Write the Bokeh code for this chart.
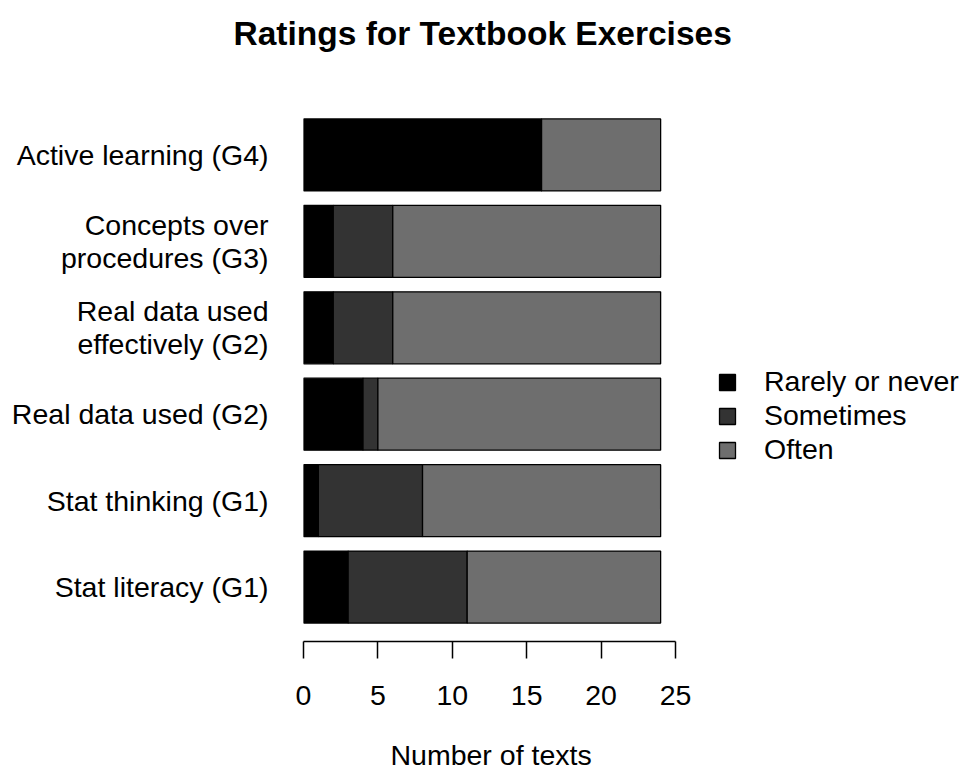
from bokeh.plotting import figure
from bokeh.models import FactorRange, Range1d, FixedTicker, Legend, ColumnDataSource, Title
from bokeh.embed import file_html
from bokeh.resources import INLINE

# Data (top to bottom as displayed)
categories = [
    "Active learning (G4)",
    "Concepts over\nprocedures (G3)",
    "Real data used\neffectively (G2)",
    "Real data used (G2)",
    "Stat thinking (G1)",
    "Stat literacy (G1)",
]
rarely = [16, 2, 2, 4, 1, 3]
sometimes = [0, 4, 4, 1, 7, 8]
often = [8, 18, 18, 19, 16, 13]
series_names = ["Rarely or never", "Sometimes", "Often"]
x_ticks = [0, 5, 10, 15, 20, 25]
colors = ["#000000", "#333333", "#6e6e6e"]
title_text = "Ratings for Textbook Exercises"
x_label = "Number of texts"

factors = list(reversed(categories))
src = ColumnDataSource(dict(cat=categories, r=rarely, s=sometimes, o=often))

FONT = "Liberation Sans"
FS = "28.5px"

W, H = 962, 775
LEFT, TOP, BOTTOM = 303, 100, 642
MBR = 2
AXIS_PX = 372                      # pixel length of 0..25 on the axis
FRAME_W = W - LEFT - MBR
x_end = x_ticks[-1] * FRAME_W / AXIS_PX

p = figure(
    width=W, height=H,
    y_range=FactorRange(factors=factors, range_padding=0.13, range_padding_units="absolute"),
    x_range=Range1d(0, x_end),
    output_backend="svg", toolbar_location=None,
    min_border_left=LEFT, min_border_right=MBR, min_border_top=TOP, min_border_bottom=H - BOTTOM,
)

renderers = p.hbar_stack(["r", "s", "o"], y="cat", height=0.833, source=src,
                         fill_color=colors, line_color="black", line_width=1.3)

# spacer + title (above)
p.add_layout(Title(text=" ", text_font_size="38px", standoff=0), "above")
p.add_layout(Title(text=title_text, text_font=FONT, text_font_size="33.5px",
                   text_font_style="bold", text_color="black",
                   align="left", offset=-70), "above")

p.outline_line_color = None
p.xgrid.visible = False
p.ygrid.visible = False
p.background_fill_color = "white"
p.border_fill_color = "white"

xa = p.xaxis[0]
xa.ticker = FixedTicker(ticks=x_ticks)
xa.bounds = (x_ticks[0], x_ticks[-1])
xa.minor_tick_line_color = None
xa.major_tick_out = 17
xa.major_tick_in = 0
xa.major_tick_line_width = 1.5
xa.major_tick_line_color = "black"
xa.axis_line_width = 1.5
xa.axis_line_color = "black"
xa.major_label_text_font = FONT
xa.major_label_text_font_size = FS
xa.major_label_text_color = "black"
xa.major_label_standoff = 27

# spacer + x-axis label as a title below the axis, centred under the 0..25 axis
p.add_layout(Title(text=" ", text_font_size="20px", standoff=0), "below")
p.add_layout(Title(text=x_label, text_font=FONT, text_font_size=FS,
                   text_font_style="normal", text_color="black",
                   align="left", offset=87, standoff=10), "below")

ya = p.yaxis[0]
ya.axis_line_color = None
ya.major_tick_line_color = None
ya.minor_tick_line_color = None
ya.major_tick_out = 0
ya.major_tick_in = 0
ya.major_label_standoff = 35
ya.major_label_text_font = FONT
ya.major_label_text_font_size = FS
ya.major_label_text_color = "black"
ya.major_label_text_align = "right"
ya.major_label_text_line_height = 1.04

LEG_LEFT, LEG_TOP, LEG_H = 717, 366, 101
legend = Legend(
    items=[(name, [r]) for name, r in zip(series_names, renderers)],
    location=(LEG_LEFT - LEFT, BOTTOM - LEG_TOP - LEG_H),
    glyph_width=20, glyph_height=20, label_standoff=27,
    label_height=32, spacing=1, padding=0, margin=0,
    label_text_font=FONT, label_text_font_size=FS, label_text_color="black",
    border_line_color=None, background_fill_alpha=0,
)
p.add_layout(legend, "center")

open("out.html", "w").write(file_html(p, INLINE))
